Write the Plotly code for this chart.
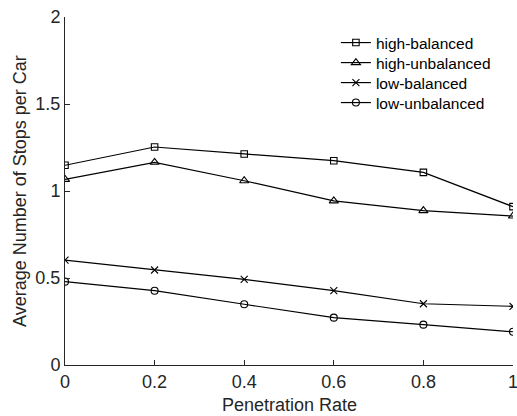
import plotly.graph_objects as go

penetration_rate = [0, 0.2, 0.4, 0.6, 0.8, 1.0]
high_balanced = [1.148, 1.253, 1.213, 1.174, 1.107, 0.910]
high_unbalanced = [1.067, 1.165, 1.059, 0.943, 0.887, 0.856]
low_balanced = [0.603, 0.546, 0.492, 0.427, 0.352, 0.337]
low_unbalanced = [0.479, 0.427, 0.349, 0.272, 0.232, 0.191]

series_names = ["high-balanced", "high-unbalanced", "low-balanced", "low-unbalanced"]
series_values = [high_balanced, high_unbalanced, low_balanced, low_unbalanced]
series_symbols = ["square-open", "triangle-up-open", "x-thin-open", "circle-open"]
series_sizes = [6.5, 8, 7, 7]

x_ticks = [0, 0.2, 0.4, 0.6, 0.8, 1]
x_tick_labels = ["0", "0.2", "0.4", "0.6", "0.8", "1"]
y_ticks = [0, 0.5, 1, 1.5, 2]
y_tick_labels = ["0", "0.5", "1", "1.5", "2"]
x_title = "Penetration Rate"
y_title = "Average Number of Stops per Car"

axis_color = "#262626"
font_family = "Liberation Sans, Arial, sans-serif"

legend_ids = ["legend", "legend2", "legend3", "legend4"]
legend_row_y = [0.9253, 0.8678, 0.8103, 0.7529]

fig = go.Figure()
for name, vals, sym, sz, lid in zip(series_names, series_values, series_symbols, series_sizes, legend_ids):
    fig.add_trace(go.Scatter(
        x=penetration_rate, y=vals, name=name, mode="lines+markers",
        line=dict(color="black", width=1.2),
        marker=dict(symbol=sym, size=sz, color="black", line=dict(color="black", width=1.1)),
        legend=lid,
    ))

legend_layout = {}
for lid, ly in zip(legend_ids, legend_row_y):
    legend_layout[lid] = dict(x=0.6047, y=ly, xanchor="left", yanchor="middle",
                              bgcolor="rgba(0,0,0,0)", borderwidth=0,
                              font=dict(size=15.5, color="black"),
                              itemsizing="trace")

fig.update_layout(
    width=517, height=416,
    margin=dict(l=65, r=4, t=17, b=51, autoexpand=False),
    paper_bgcolor="white", plot_bgcolor="white",
    font=dict(family=font_family, size=16, color=axis_color),
    showlegend=True,
    xaxis=dict(range=[0, 1], tickvals=x_ticks, ticktext=x_tick_labels,
               showgrid=False, zeroline=False, showline=True, linecolor=axis_color,
               linewidth=1, ticks="inside", ticklen=5, tickcolor=axis_color,
               tickfont=dict(size=18, color=axis_color), automargin=False,
               ticklabeloverflow="allow"),
    yaxis=dict(range=[0, 2], tickvals=y_ticks, ticktext=y_tick_labels,
               showgrid=False, zeroline=False, showline=True, linecolor=axis_color,
               linewidth=1, ticks="inside", ticklen=5, tickcolor=axis_color,
               tickfont=dict(size=18, color=axis_color), automargin=False,
               ticklabeloverflow="allow"),
    annotations=[
        dict(text=x_title, xref="paper", yref="paper", x=0.5, y=0, yshift=-40,
             xanchor="center", yanchor="middle", showarrow=False,
             font=dict(size=18, color=axis_color)),
        dict(text=y_title, xref="paper", yref="paper", x=0, y=0.5, xshift=-45,
             xanchor="center", yanchor="middle", textangle=-90, showarrow=False,
             font=dict(size=18, color=axis_color)),
    ],
    **legend_layout,
)

fig.write_html("out.html", config={"displayModeBar": False},
               post_script="document.body.style.margin='0';document.body.style.overflow='hidden';")
